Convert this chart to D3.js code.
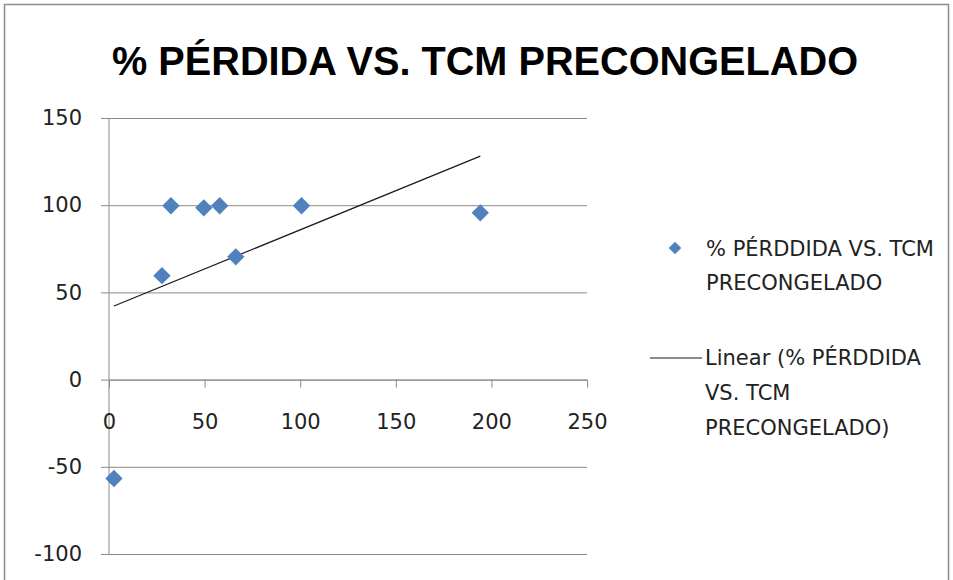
<!DOCTYPE html>
<html>
<head>
<meta charset="utf-8">
<title>% PÉRDIDA VS. TCM PRECONGELADO</title>
<script src="https://d3js.org/d3.v7.min.js"></script>
<style>
    body { margin: 0; background: #fff; }
    svg { display: block; }
    .tick text { font-family: "DejaVu Sans", sans-serif; font-size: 21px; fill: #222; }
    .legend text { font-family: "DejaVu Sans", sans-serif; font-size: 21px; fill: #222; }
</style>
</head>
<body>
<script>
// values
var tcm = [2.6, 27.7, 32.4, 49.6, 57.9, 66.3, 100.7, 194.2];
var perdida = [-56.7, 59.6, 99.7, 98.5, 99.7, 70.4, 99.7, 95.6];
var xTicks = [0, 50, 100, 150, 200, 250];
var yTicks = [-100, -50, 0, 50, 100, 150];
var seriesName = ["% PÉRDDIDA VS. TCM", "PRECONGELADO"];
var trendName = ["Linear (% PÉRDDIDA", "VS. TCM", "PRECONGELADO)"];

var width = 953, height = 580;
var svg = d3.select("body").append("svg").attr("width", width).attr("height", height);

// chart border
svg.append("rect").attr("x", 4.5).attr("y", 4.5).attr("width", 944).attr("height", 600)
    .attr("fill", "#fff").attr("stroke", "#8c8c8c").attr("stroke-width", 1.5);

svg.append("text").attr("x", 485).attr("y", 75).attr("text-anchor", "middle")
    .attr("font-family", "Liberation Sans, Arial, sans-serif").attr("font-weight", "bold")
    .attr("font-size", 41).attr("textLength", 746).attr("lengthAdjust", "spacingAndGlyphs")
    .attr("fill", "#000").text("% PÉRDIDA VS. TCM PRECONGELADO");

var x = d3.scaleLinear().domain([0, 250]).range([109, 587]);
var y = d3.scaleLinear().domain([-100, 150]).range([554, 118]);
var plain = function(d) { return String(d); };

// horizontal gridlines + y axis
var yAxis = svg.append("g").attr("transform", "translate(" + x(0) + ",0)")
    .call(d3.axisLeft(y).tickValues(yTicks).tickFormat(plain).tickSize(8).tickPadding(19));
yAxis.select(".domain").remove();
yAxis.selectAll(".tick line").attr("x2", x(250) - x(0)).attr("x1", -8).attr("stroke", "#8a8a8a");

svg.append("line").attr("x1", x(0)).attr("x2", x(0)).attr("y1", y(150)).attr("y2", y(-100))
    .attr("stroke", "#8a8a8a");

var xAxis = svg.append("g").attr("transform", "translate(0," + y(0) + ")")
    .call(d3.axisBottom(x).tickValues(xTicks).tickFormat(plain).tickSize(8).tickPadding(26).tickSizeOuter(0));
xAxis.select(".domain").attr("stroke", "#8a8a8a");
xAxis.selectAll(".tick line").attr("stroke", "#8a8a8a");

// linear trendline (least squares on the points)
var mx = d3.mean(tcm), my = d3.mean(perdida);
var sxy = d3.sum(tcm, function(d, i) { return (d - mx) * (perdida[i] - my); });
var sxx = d3.sum(tcm, function(d) { return (d - mx) * (d - mx); });
var slope = sxy / sxx, icpt = my - slope * mx;
var xr = d3.extent(tcm);
svg.append("line")
    .attr("x1", x(xr[0])).attr("y1", y(icpt + slope * xr[0]))
    .attr("x2", x(xr[1])).attr("y2", y(icpt + slope * xr[1]))
    .attr("stroke", "#1a1a1a").attr("stroke-width", 1.2);

var diamond = d3.symbol().type(d3.symbolSquare).size(150);
svg.append("g").selectAll("path").data(tcm).join("path")
    .attr("d", diamond)
    .attr("transform", function(d, i) { return "translate(" + x(d) + "," + y(perdida[i]) + ") rotate(45)"; })
    .attr("fill", "#4f81bd");

// legend
var lg = svg.append("g").attr("class", "legend");
lg.append("path").attr("d", d3.symbol().type(d3.symbolSquare).size(80))
    .attr("transform", "translate(675,248) rotate(45)").attr("fill", "#4f81bd");
lg.selectAll("text.s").data(seriesName).join("text").attr("class", "s")
    .attr("x", 706).attr("y", function(d, i) { return 256 + i * 34; }).text(function(d) { return d; });
lg.append("line").attr("x1", 650).attr("x2", 702).attr("y1", 358).attr("y2", 358)
    .attr("stroke", "#1a1a1a").attr("stroke-width", 1.2);
lg.selectAll("text.t").data(trendName).join("text").attr("class", "t")
    .attr("x", 705).attr("y", function(d, i) { return 365 + i * 35; }).text(function(d) { return d; });
</script>
</body>
</html>
